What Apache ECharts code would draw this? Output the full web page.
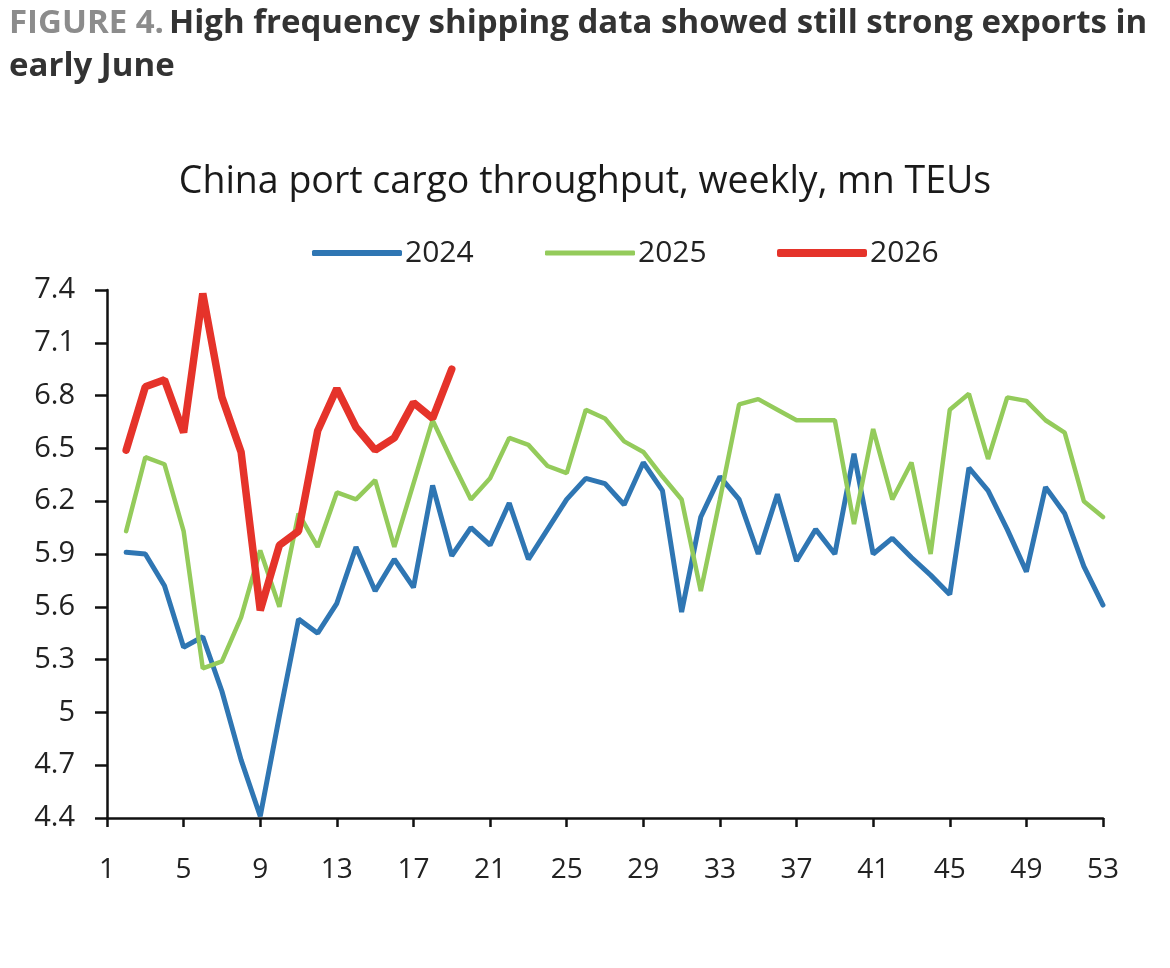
<!DOCTYPE html>
<html>
<head>
<meta charset="utf-8">
<script src="https://cdn.jsdelivr.net/npm/echarts@6/dist/echarts.min.js"></script>
<style>
  html, body { margin: 0; padding: 0; background: #fff; }
  #chart { width: 1170px; height: 968px; }
</style>
</head>
<body>
<div id="chart"></div>
<script>
// weeks 1..53, values in mn TEUs (week 1 not shown)
const weeks = Array.from({ length: 53 }, (_, i) => String(i + 1))
const y2024 = [null,
  5.91, 5.90, 5.72, 5.37, 5.43, 5.12, 4.73, 4.41, 4.98, 5.53,
  5.45, 5.62, 5.94, 5.69, 5.87, 5.71, 6.29, 5.89, 6.05, 5.95,
  6.19, 5.87, 6.04, 6.21, 6.33, 6.30, 6.18, 6.42, 6.26, 5.57,
  6.11, 6.34, 6.21, 5.90, 6.24, 5.86, 6.04, 5.90, 6.47, 5.90,
  5.99, 5.88, 5.78, 5.67, 6.39, 6.26, 6.04, 5.80, 6.28, 6.13,
  5.83, 5.61]
const y2025 = [null,
  6.03, 6.45, 6.41, 6.03, 5.25, 5.29, 5.54, 5.92, 5.60, 6.13,
  5.94, 6.25, 6.21, 6.32, 5.94, 6.30, 6.66, 6.43, 6.21, 6.33,
  6.56, 6.52, 6.40, 6.36, 6.72, 6.67, 6.54, 6.48, 6.34, 6.21,
  5.69, 6.21, 6.75, 6.78, 6.72, 6.66, 6.66, 6.66, 6.07, 6.61,
  6.21, 6.42, 5.90, 6.72, 6.81, 6.44, 6.79, 6.77, 6.66, 6.59,
  6.20, 6.11]
const y2026 = [null,
  6.49, 6.85, 6.89, 6.59, 7.38, 6.79, 6.48, 5.58, 5.95, 6.03,
  6.60, 6.84, 6.62, 6.49, 6.56, 6.76, 6.67, 6.95]

const chart = echarts.init(document.getElementById('chart'))
const font = 'Open Sans'

function lg(name, left, h) {
  return {
    top: 233, left: left,
    icon: 'roundRect', itemWidth: 90, itemHeight: h,
    textStyle: { color: '#222', fontSize: 30, fontFamily: font, padding: [0, 0, 0, -2] },
    data: [name]
  }
}

chart.setOption({
  backgroundColor: '#fff',
  animation: false,
  title: [
    {
      left: 4, top: -3,
      text: '{g|FIGURE 4.} {d|High frequency shipping data showed still strong exports in}\n{d|early June}',
      textStyle: {
        lineHeight: 43,
        rich: {
          g: { color: '#8c8c8c', fontSize: 33, fontWeight: 'bold', fontFamily: font, lineHeight: 43 },
          d: { color: '#333', fontSize: 33, fontWeight: 'bold', fontFamily: font, lineHeight: 43 }
        }
      }
    },
    {
      left: 'center', top: 158,
      text: 'China port cargo throughput, weekly, mn TEUs',
      textStyle: { color: '#1a1a1a', fontSize: 37.5, fontWeight: 'normal', fontFamily: font }
    }
  ],
  legend: [lg('2024', 307, 6), lg('2025', 540, 5), lg('2026', 772, 8)],
  grid: { left: 107, right: 67, top: 290, bottom: 150 },
  xAxis: {
    type: 'category', data: weeks, boundaryGap: false,
    axisLine: { lineStyle: { color: '#111', width: 2.5 } },
    axisTick: { interval: 3, length: 9, lineStyle: { color: '#111', width: 2.5 } },
    axisLabel: { interval: 3, color: '#222', fontSize: 28, fontFamily: font, margin: 38 }
  },
  yAxis: {
    type: 'value', min: 4.4, max: 7.4, interval: 0.3,
    axisLine: { show: true, lineStyle: { color: '#111', width: 2.5 } },
    axisTick: { show: true, length: 12, lineStyle: { color: '#111', width: 2.5 } },
    axisLabel: { color: '#222', fontSize: 29, fontFamily: font, margin: 32 },
    splitLine: { show: false }
  },
  series: [
    { name: '2024', type: 'line', data: y2024, symbol: 'none', color: '#2f76b3', lineStyle: { width: 5, cap: 'round' } },
    { name: '2025', type: 'line', data: y2025, symbol: 'none', color: '#94cb5b', lineStyle: { width: 4.5, cap: 'round' } },
    { name: '2026', type: 'line', data: y2026, symbol: 'none', color: '#e5332a', lineStyle: { width: 7.5, cap: 'round' } }
  ]
})
</script>
</body>
</html>
